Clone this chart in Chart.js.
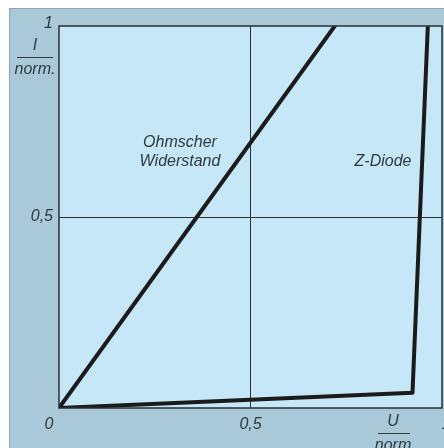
<!DOCTYPE html>
<html>
<head>
<meta charset="utf-8">
<script src="https://cdn.jsdelivr.net/npm/chart.js@4"></script>
<style>
  body { margin: 0; background: #fff; overflow: hidden; }
  canvas { display: block; }
</style>
</head>
<body>
<canvas id="myChart" width="444" height="448"></canvas>
<script>
// Daten (normiert)
const ohmU = [0, 0.72];
const ohmI = [0, 1];
const zDiodeU = [0, 0.923, 0.963];
const zDiodeI = [0, 0.04, 1];
const tickValues = [0, 0.5, 1];
const tickLabels = ['0', '0,5', '1'];

const toPoints = (xs, ys) => xs.map((x, i) => ({ x: x, y: ys[i] }));

const FONT = 'italic 16px "Liberation Sans", Arial, sans-serif';
const TEXT = '#2f3a40';

// Hintergrund, Rahmen und Beschriftungen
const paperPlugin = {
    id: 'paper',
    beforeDraw(chart) {
        const ctx = chart.ctx;
        const a = chart.chartArea;
        ctx.save();
        ctx.fillStyle = '#ffffff';
        ctx.fillRect(0, 0, chart.width, chart.height);
        ctx.fillStyle = '#a9c9d9';
        ctx.fillRect(9, 8, chart.width - 9, chart.height - 8);
        ctx.strokeStyle = '#8aa6b4';
        ctx.lineWidth = 1;
        ctx.beginPath();
        ctx.moveTo(9.5, chart.height);
        ctx.lineTo(9.5, 8.5);
        ctx.lineTo(chart.width, 8.5);
        ctx.stroke();
        ctx.fillStyle = '#c6e7f7';
        ctx.fillRect(a.left, a.top, a.right - a.left, a.bottom - a.top);
        ctx.restore();
    },
    afterDraw(chart) {
        const ctx = chart.ctx;
        const a = chart.chartArea;
        const xs = chart.scales.x;
        const ys = chart.scales.y;
        ctx.save();
        ctx.strokeStyle = '#2a2f33';
        ctx.lineWidth = 1.5;
        ctx.strokeRect(a.left, a.top, a.right - a.left, a.bottom - a.top);

        ctx.font = FONT;
        ctx.fillStyle = TEXT;
        ctx.textBaseline = 'middle';

        // y-Achse
        ctx.textAlign = 'right';
        ctx.fillText(tickLabels[2], a.left - 6, ys.getPixelForValue(tickValues[2]) - 2);
        ctx.fillText(tickLabels[1], a.left - 6, ys.getPixelForValue(tickValues[1]));
        ctx.textAlign = 'center';
        ctx.fillText('I', 35, 46);
        ctx.fillText('norm.', 35, 70);
        ctx.strokeStyle = TEXT;
        ctx.lineWidth = 1;
        ctx.beginPath();
        ctx.moveTo(17, 57.5);
        ctx.lineTo(53, 57.5);
        ctx.stroke();

        // x-Achse
        const yTick = a.bottom + 17;
        ctx.fillText(tickLabels[0], xs.getPixelForValue(tickValues[0]) - 10, yTick);
        ctx.fillText(tickLabels[1], xs.getPixelForValue(tickValues[1]), yTick);
        ctx.fillText(tickLabels[2], xs.getPixelForValue(tickValues[2]) + 4, yTick);
        ctx.fillText('U', 393, 422);
        ctx.fillText('norm', 393, 446);
        ctx.beginPath();
        ctx.moveTo(378, 433.5);
        ctx.lineTo(410, 433.5);
        ctx.stroke();

        // Kurvenbeschriftung
        ctx.fillText('Ohmscher', 180, 143);
        ctx.fillText('Widerstand', 180, 162);
        ctx.fillText('Z-Diode', 383, 162);
        ctx.restore();
    }
};

const gridColor = (c) => (c.tick && c.tick.value === 0.5 ? '#2a2f33' : 'rgba(0,0,0,0)');

const config = {
    type: 'line',
    data: {
        datasets: [
            {
                label: 'Ohmscher Widerstand',
                data: toPoints(ohmU, ohmI),
                borderColor: '#1b1b1b',
                borderWidth: 4,
                pointRadius: 0,
                tension: 0,
                borderJoinStyle: 'round',
                borderCapStyle: 'round'
            },
            {
                label: 'Z-Diode',
                data: toPoints(zDiodeU, zDiodeI),
                borderColor: '#1b1b1b',
                borderWidth: 4,
                pointRadius: 0,
                tension: 0,
                borderJoinStyle: 'round',
                borderCapStyle: 'round'
            }
        ]
    },
    options: {
        responsive: false,
        animation: false,
        layout: { padding: { left: 59, top: 26, right: 2, bottom: 40 } },
        plugins: {
            legend: { display: false },
            tooltip: { enabled: false }
        },
        scales: {
            x: {
                type: 'linear',
                min: 0,
                max: 1,
                afterBuildTicks: (s) => { s.ticks = tickValues.map(v => ({ value: v })); },
                ticks: { display: false },
                border: { display: false },
                grid: { color: gridColor, lineWidth: 1, drawTicks: false }
            },
            y: {
                type: 'linear',
                min: 0,
                max: 1,
                afterBuildTicks: (s) => { s.ticks = tickValues.map(v => ({ value: v })); },
                ticks: { display: false },
                border: { display: false },
                grid: { color: gridColor, lineWidth: 1, drawTicks: false }
            }
        }
    },
    plugins: [paperPlugin]
};

new Chart(document.getElementById('myChart').getContext('2d'), config);
</script>
</body>
</html>
